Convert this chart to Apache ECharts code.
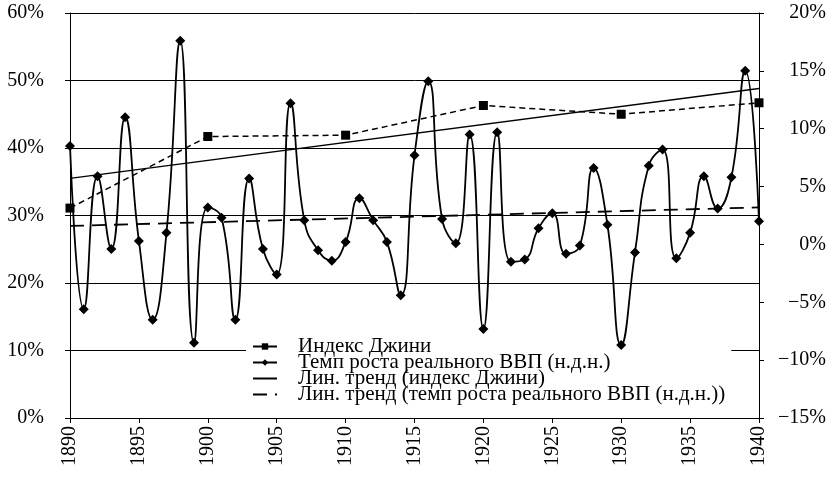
<!DOCTYPE html>
<html>
<head>
<meta charset="utf-8">
<script src="https://cdn.jsdelivr.net/npm/echarts@6/dist/echarts.min.js"></script>
<style>
html,body{margin:0;padding:0;background:#fff;}
#main{width:834px;height:479px;}
</style>
</head>
<body>
<div id="main"></div>
<script>
// годы
var years = [];
for (var y = 1890; y <= 1940; y++) years.push(y);

// темп роста реального ВВП, % (правая ось)
var growth = [8.5, -5.6, 5.9, -0.4, 11.0, 0.3, -6.5, 1.0, 17.6, -8.5,
	3.2, 2.3, -6.5, 5.7, -0.4, -2.6, 12.2, 2.1, -0.5, -1.4,
	0.2, 4.0, 2.1, 0.2, -4.4, 7.7, 14.1, 2.2, 0.1, 9.5,
	-7.3, 9.7, -1.5, -1.3, 1.4, 2.7, -0.8, -0.1, 6.6, 1.7,
	-8.7, -0.7, 6.8, 8.2, -1.2, 1.0, 5.9, 3.1, 5.8, 15.0,
	2.0];

// индекс Джини, %
var giniYears = [1890, 1900, 1910, 1920, 1930, 1940];
var gini = [31.1, 41.7, 41.9, 46.3, 45.0, 46.7];

// линейные тренды (концы)
var trendYears = [1890, 1940];
var giniTrend = [35.5, 48.8];
var growthTrend = [1.6, 3.2];

var legendNames = ['Индекс Джини', 'Темп роста реального ВВП (н.д.н.)',
	'Лин. тренд (индекс Джини)', 'Лин. тренд (темп роста реального ВВП (н.д.н.))'];

function pairs(xs, vs){
	var out = [];
	for (var i = 0; i < xs.length; i++) out.push([xs[i], vs[i]]);
	return out;
}

var font = 'Liberation Serif';
var chart = echarts.init(document.getElementById('main'));

var option = {
	backgroundColor: '#fff',
	animation: false,
	textStyle: {fontFamily: font, color: '#000'},
	grid: {left: 70, right: 75, top: 13, bottom: 61},
	legend: {
		orient: 'vertical',
		left: 246,
		top: 335,
		z: 1,
		backgroundColor: '#fff',
		padding: [1, 6, 1, 6],
		itemGap: -5,
		itemWidth: 24,
		itemHeight: 8,
		textStyle: {fontFamily: font, fontSize: 21, color: '#000', padding: [0, 0, 0, 16]},
		data: [
			{name: legendNames[0], lineStyle: {type: 'solid'}},
			{name: legendNames[1]},
			{name: legendNames[2], itemStyle: {opacity: 0}},
			{name: legendNames[3], itemStyle: {opacity: 0}}
		]
	},
	xAxis: {
		type: 'value',
		min: 1890,
		max: 1940,
		interval: 5,
		axisLine: {lineStyle: {color: '#000', width: 1}},
		axisTick: {length: 5, lineStyle: {color: '#000'}},
		axisLabel: {
			rotate: 90,
			fontSize: 20,
			color: '#000',
			fontFamily: font,
			margin: 8,
			formatter: function(v){ return String(v); }
		},
		splitLine: {show: false}
	},
	yAxis: [
		{
			type: 'value',
			min: 0,
			max: 60,
			interval: 10,
			axisLine: {show: true, lineStyle: {color: '#000'}},
			axisTick: {show: true, length: 5, lineStyle: {color: '#000'}},
			axisLabel: {fontSize: 20, color: '#000', fontFamily: font, margin: 26,
				formatter: '{value}%'},
			splitLine: {show: true, lineStyle: {color: '#000', width: 1}}
		},
		{
			type: 'value',
			min: -15,
			max: 20,
			interval: 5,
			position: 'right',
			axisLine: {show: true, lineStyle: {color: '#000'}},
			axisTick: {show: true, length: 5, lineStyle: {color: '#000'}},
			axisLabel: {fontSize: 20, color: '#000', fontFamily: font, margin: 67, align: 'right',
				formatter: function(v){ return (v < 0 ? '\u2212' + Math.abs(v) : v) + '%'; }},
			splitLine: {show: false}
		}
	],
	series: [
		{
			name: legendNames[0],
			type: 'line',
			z: 3,
			yAxisIndex: 0,
			data: pairs(giniYears, gini),
			symbol: 'rect',
			symbolSize: 9,
			itemStyle: {color: '#000'},
			lineStyle: {color: '#000', width: 1.5, type: [6, 4]}
		},
		{
			name: legendNames[1],
			type: 'line',
			z: 4,
			yAxisIndex: 1,
			data: pairs(years, growth),
			smooth: 0.5,
			symbol: 'diamond',
			symbolSize: 10,
			itemStyle: {color: '#000'},
			lineStyle: {color: '#000', width: 1.8}
		},
		{
			name: legendNames[2],
			type: 'line',
			z: 3,
			yAxisIndex: 0,
			data: pairs(trendYears, giniTrend),
			symbol: 'none',
			itemStyle: {color: '#000'},
			lineStyle: {color: '#000', width: 1.5}
		},
		{
			name: legendNames[3],
			type: 'line',
			z: 3,
			yAxisIndex: 1,
			data: pairs(trendYears, growthTrend),
			symbol: 'none',
			itemStyle: {color: '#000'},
			lineStyle: {color: '#000', width: 1.8, type: [14, 8]}
		}
	]
};

chart.setOption(option);
</script>
</body>
</html>
